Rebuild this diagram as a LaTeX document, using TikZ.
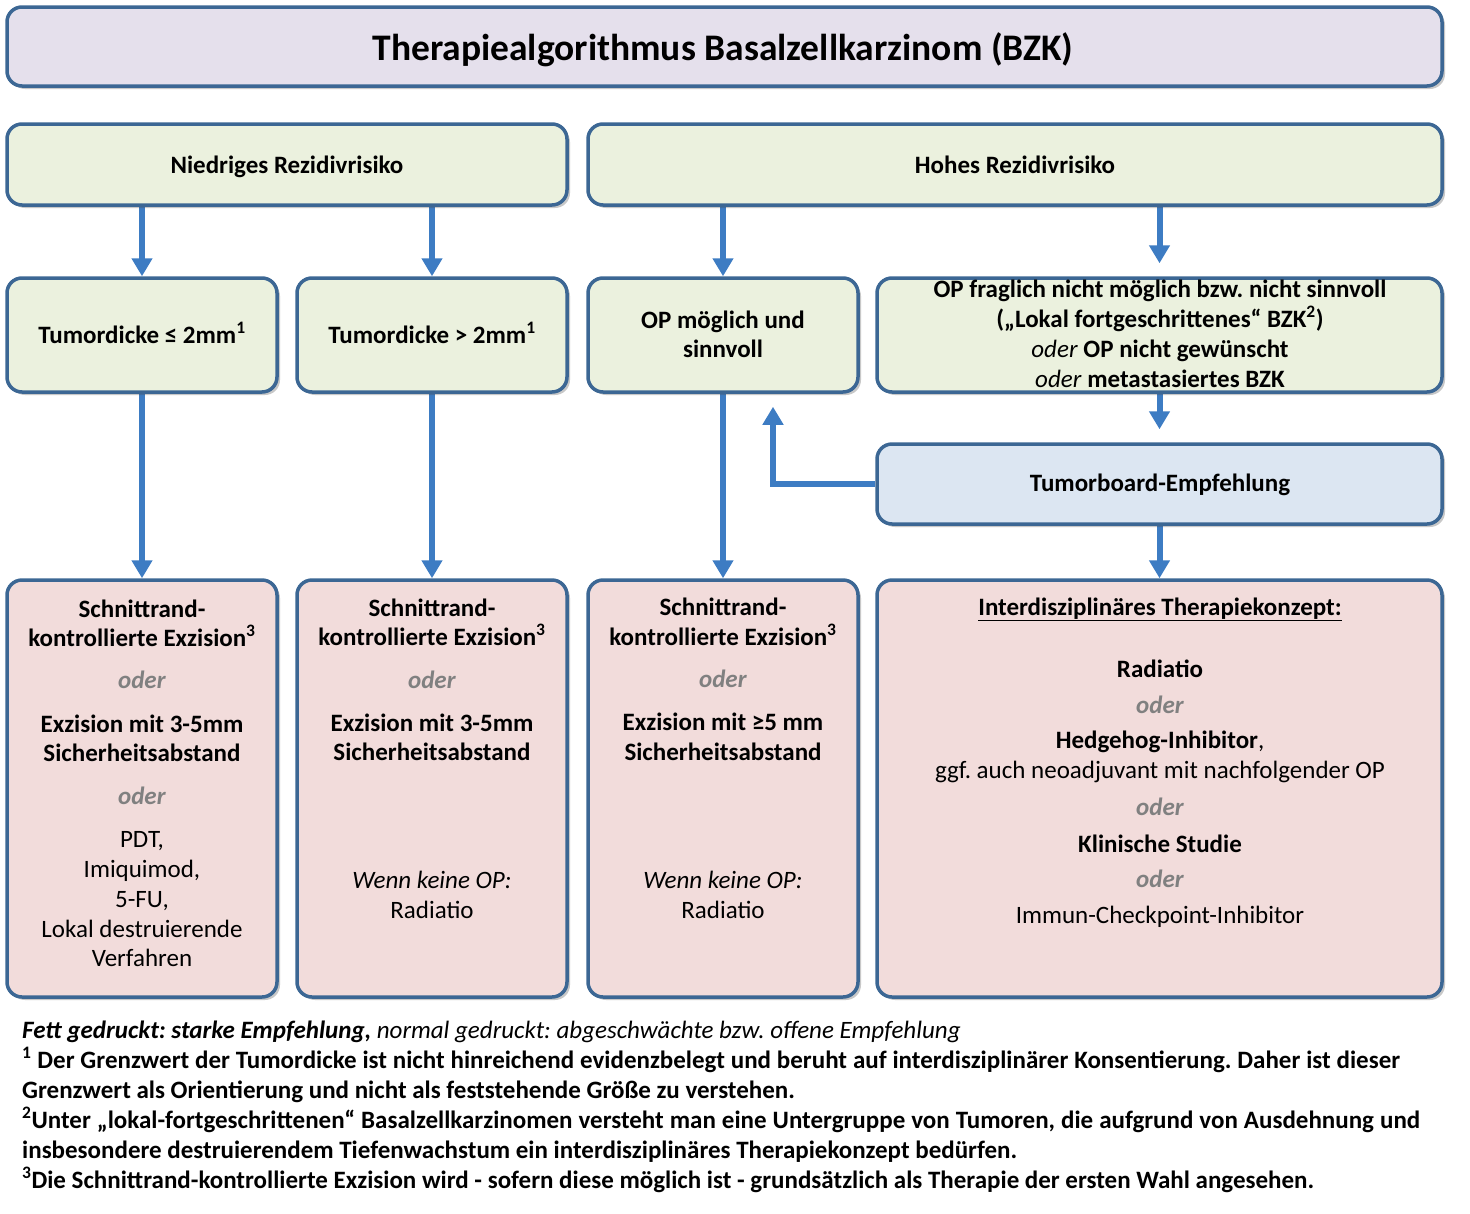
\documentclass[tikz,border=0pt]{standalone}
\usepackage{fontspec}
\setmainfont{Carlito}
\usetikzlibrary{shadows,arrows.meta,calc}
\definecolor{bordc}{HTML}{3C6794}
\definecolor{arrc}{HTML}{3D7CC3}
\definecolor{titlef}{HTML}{E5E0EC}
\definecolor{greenf}{HTML}{EBF1DE}
\definecolor{bluef}{HTML}{DCE6F2}
\definecolor{pinkf}{HTML}{F2DCDB}
\definecolor{odergray}{HTML}{808080}
\pgfdeclarelayer{back}
\pgfdeclarelayer{bg}
\pgfsetlayers{back,bg,main}
\newcommand{\oderw}{\textcolor{odergray}{\textbf{\textit{oder}}}}
\frenchspacing
\begin{document}
\begin{tikzpicture}[x=1pt,y=-1pt,
  box/.style={draw=bordc, line width=3.5pt, rounded corners=15pt, inner sep=0pt,
    drop shadow={shadow xshift=3pt, shadow yshift=-3pt, opacity=0.3, fill=black!70}},
  titlebox/.style={box, fill=titlef},
  greenbox/.style={box, fill=greenf},
  bluebox/.style={box, fill=bluef},
  pinkbox/.style={box, fill=pinkf},
  txt/.style={anchor=base, inner sep=0pt, font=\fontsize{25}{30}\selectfont},
  btxt/.style={txt, font=\fontsize{25}{30}\selectfont\bfseries},
  fn/.style={anchor=base west, inner sep=0pt, font=\fontsize{25}{30}\selectfont\bfseries},
  arr/.style={draw=arrc, line width=6pt, -{Triangle[width=20pt,length=18pt]}}
]
\begin{pgfonlayer}{back}
\useasboundingbox[fill=white] (0,0) rectangle (1470,1213);
\end{pgfonlayer}

% boxes
\node[titlebox, minimum width=1435pt, minimum height=79pt] (title) at (724.5,46.5) {};
\node[greenbox, minimum width=560pt, minimum height=81pt] (nied) at (287,164.5) {};
\node[greenbox, minimum width=854pt, minimum height=81pt] (hohes) at (1015,164.5) {};
\node[greenbox, minimum width=270pt, minimum height=114pt] (tl) at (142,335) {};
\node[greenbox, minimum width=270pt, minimum height=114pt] (tg) at (432,335) {};
\node[greenbox, minimum width=270pt, minimum height=114pt] (opm) at (723,335) {};
\node[greenbox, minimum width=565pt, minimum height=114pt] (opf) at (1159.5,335) {};
\node[bluebox, minimum width=565pt, minimum height=80pt] (tb) at (1159.5,484) {};
\node[pinkbox, minimum width=270pt, minimum height=417pt] (p1) at (142,788.5) {};
\node[pinkbox, minimum width=270pt, minimum height=417pt] (p2) at (432,788.5) {};
\node[pinkbox, minimum width=270pt, minimum height=417pt] (p3) at (723,788.5) {};
\node[pinkbox, minimum width=565pt, minimum height=417pt] (p4) at (1159.5,788.5) {};

% arrows
\begin{pgfonlayer}{bg}
\draw[arr] (nied.south -| tl.north) -- (tl.north);
\draw[arr] (nied.south -| tg.north) -- (tg.north);
\draw[arr] (hohes.south -| opm.north) -- (opm.north);
\draw[arr, shorten >=13pt] (hohes.south -| opf.north) -- (opf.north);
\draw[arr, shorten >=13pt] (opf.south) -- (tb.north);
\draw[arr] (tb.south) -- (p4.north);
\draw[arr] (tl.south) -- (p1.north);
\draw[arr] (tg.south) -- (p2.north);
\draw[arr] (opm.south) -- (p3.north);
\coordinate (elb) at ($(opm.south)+(50,0)$);
\draw[arr, shorten >=13pt] (tb.west) -| (elb);
\end{pgfonlayer}

% texts
\node[txt, font=\fontsize{37.5}{40}\selectfont\bfseries] (ttitle) at (723,60) {Therapiealgorithmus Basalzellkarzinom (BZK)};
\node[btxt] (tnied) at (287,173) {Niedriges Rezidivrisiko};
\node[btxt] (thoh) at (1015,173) {Hohes Rezidivrisiko};
\node[btxt] (ttl) at (142,343) {Tumordicke ≤ 2mm\textsuperscript{1}};
\node[btxt] (ttg) at (432,343) {Tumordicke > 2mm\textsuperscript{1}};
\node[btxt] (topm1) at (723,328) {OP möglich und};
\node[btxt] (topm2) at (723,357) {sinnvoll};
\node[btxt] (topf1) at (1160,297) {OP fraglich nicht möglich bzw. nicht sinnvoll};
\node[btxt] (topf2) at (1160,327) {(„Lokal fortgeschrittenes“ BZK\textsuperscript{2})};
\node[btxt] (topf3) at (1160,357) {\textit{\mdseries oder} OP nicht gewünscht};
\node[btxt] (topf4) at (1160,387) {\textit{\mdseries oder} metastasiertes BZK};
\node[btxt] (ttb) at (1160,491) {Tumorboard-Empfehlung};

% pink 1
\node[btxt] (a1) at (142,617) {Schnittrand-};
\node[btxt] (a2) at (142,646) {kontrollierte Exzision\textsuperscript{3}};
\node[txt] (a3) at (142,688) {\oderw};
\node[btxt] (a4) at (142,732) {Exzision mit 3-5mm};
\node[btxt] (a5) at (142,761) {Sicherheitsabstand};
\node[txt] (a6) at (142,804) {\oderw};
\node[txt] (a7) at (142,847) {PDT,};
\node[txt] (a8) at (142,877) {Imiquimod,};
\node[txt] (a9) at (142,907) {5-FU,};
\node[txt] (a10) at (142,937) {Lokal destruierende};
\node[txt] (a11) at (142,966) {Verfahren};

% pink 2
\node[btxt] (b1) at (432,616) {Schnittrand-};
\node[btxt] (b2) at (432,645) {kontrollierte Exzision\textsuperscript{3}};
\node[txt] (b3) at (432,688) {\oderw};
\node[btxt] (b4) at (432,731) {Exzision mit 3-5mm};
\node[btxt] (b5) at (432,760) {Sicherheitsabstand};
\node[txt] (b6) at (432,888) {\textit{Wenn keine OP:}};
\node[txt] (b7) at (432,918) {Radiatio};

% pink 3
\node[btxt] (c1) at (723,615) {Schnittrand-};
\node[btxt] (c2) at (723,645) {kontrollierte Exzision\textsuperscript{3}};
\node[txt] (c3) at (723,687) {\oderw};
\node[btxt] (c4) at (723,730) {Exzision mit ≥5 mm};
\node[btxt] (c5) at (723,760) {Sicherheitsabstand};
\node[txt] (c6) at (723,888) {\textit{Wenn keine OP:}};
\node[txt] (c7) at (723,918) {Radiatio};

% pink 4
\node[btxt] (d1) at (1160,615) {\underline{Interdisziplinäres Therapiekonzept:}};
\node[btxt] (d2) at (1160,677) {Radiatio};
\node[txt] (d3) at (1160,713) {\oderw};
\node[txt] (d4) at (1160,748) {\textbf{Hedgehog-Inhibitor},};
\node[txt] (d5) at (1160,778) {ggf. auch neoadjuvant mit nachfolgender OP};
\node[txt] (d6) at (1160,815) {\oderw};
\node[btxt] (d7) at (1160,852) {Klinische Studie};
\node[txt] (d8) at (1160,887) {\oderw};
\node[txt] (d9) at (1160,923) {Immun-Checkpoint-Inhibitor};

% footnotes
\node[fn, font=\fontsize{25}{30}\selectfont] (f0) at (22,1038) {\textbf{\textit{Fett gedruckt: starke Empfehlung,}} \textit{normal gedruckt: abgeschwächte bzw. offene Empfehlung}};
\node[fn] (f1) at (22,1068) {\makebox[1378pt][s]{\textsuperscript{1} Der Grenzwert der Tumordicke ist nicht hinreichend evidenzbelegt und beruht auf interdisziplinärer Konsentierung. Daher ist dieser}};
\node[fn] (f2) at (22,1098) {Grenzwert als Orientierung und nicht als feststehende Größe zu verstehen.};
\node[fn] (f3) at (22,1128) {\makebox[1398pt][s]{\textsuperscript{2}Unter „lokal-fortgeschrittenen“ Basalzellkarzinomen versteht man eine Untergruppe von Tumoren, die aufgrund von Ausdehnung und}};
\node[fn] (f4) at (22,1158) {insbesondere destruierendem Tiefenwachstum ein interdisziplinäres Therapiekonzept bedürfen.};
\node[fn] (f5) at (22,1188) {\textsuperscript{3}Die Schnittrand-kontrollierte Exzision wird - sofern diese möglich ist - grundsätzlich als Therapie der ersten Wahl angesehen.};
\end{tikzpicture}
\end{document}
